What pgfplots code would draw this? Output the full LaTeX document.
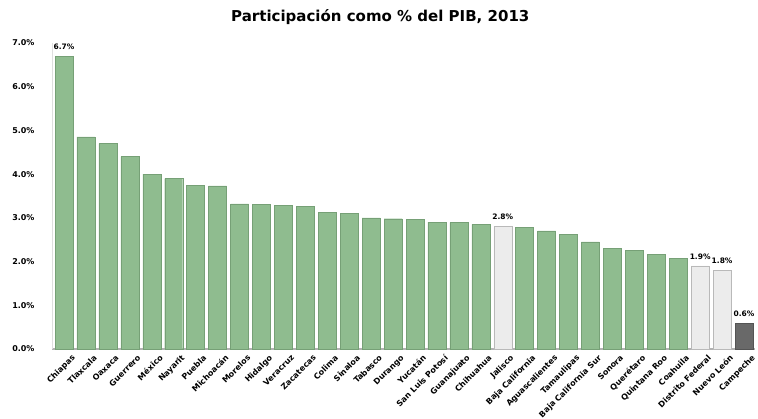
\documentclass[border=0pt]{standalone}
\usepackage{fontspec}
\setmainfont{DejaVu Sans}
\usepackage{pgfplots}
\pgfplotsset{compat=1.18}
\definecolor{barg}{RGB}{143,188,143}
\definecolor{bargedge}{RGB}{118,160,118}
\definecolor{barl}{RGB}{236,236,236}
\definecolor{barledge}{RGB}{185,185,185}
\definecolor{bard}{RGB}{105,105,105}
\begin{document}
\begin{tikzpicture}
\begin{axis}[
  scale only axis, width=703pt, height=306pt,
  xmin=-0.55, xmax=31.5, ymin=0, ymax=7,
  ybar, bar width=18pt, bar shift=0pt,
  axis x line*=bottom, axis y line*=left,
  x axis line style={draw=gray!60, line width=1.2pt},
  y axis line style={draw=gray!25},
  major tick length=0pt,
  xtick={0,...,31},
  xticklabels={Chiapas,Tlaxcala,Oaxaca,Guerrero,México,Nayarit,Puebla,Michoacán,Morelos,Hidalgo,Veracruz,Zacatecas,Colima,Sinaloa,Tabasco,Durango,Yucatán,San Luis Potosí,Guanajuato,Chihuahua,Jalisco,Baja California,Aguascalientes,Tamaulipas,Baja California Sur,Sonora,Querétaro,Quintana Roo,Coahuila,Distrito Federal,Nuevo León,Campeche},
  x tick label style={font=\bfseries\fontsize{8}{9}\selectfont, rotate=45, anchor=north east, inner sep=0.5pt, yshift=-8pt, xshift=2pt},
  ytick={0,...,7},
  yticklabels={0.0\%,1.0\%,2.0\%,3.0\%,4.0\%,5.0\%,6.0\%,7.0\%},
  y tick label style={font=\bfseries\fontsize{8}{9}\selectfont, xshift=-14pt},
  title={Participación como \% del PIB, 2013},
  title style={font=\bfseries\fontsize{15}{17}\selectfont, at={(0.467,1)}, anchor=center, yshift=20pt},
  nodes near coords style={font=\bfseries\fontsize{7.5}{8}\selectfont, anchor=south, yshift=3pt},
  clip=false,
]
\addplot[fill=barg, draw=bargedge] coordinates {
  (1,4.85) (2,4.70) (3,4.40) (4,4.00) (5,3.90) (6,3.75) (7,3.73)
  (8,3.32) (9,3.31) (10,3.28) (11,3.26) (12,3.13) (13,3.10) (14,3.00)
  (15,2.98) (16,2.97) (17,2.90) (18,2.89) (19,2.85)
  (21,2.78) (22,2.70) (23,2.62) (24,2.45) (25,2.30) (26,2.25) (27,2.16) (28,2.07)
};
\addplot[fill=barg, draw=bargedge, nodes near coords, point meta=explicit symbolic] coordinates {
  (0,6.7) [6.7\%]
};
\addplot[fill=barl, draw=barledge, nodes near coords, point meta=explicit symbolic] coordinates {
  (20,2.8) [2.8\%] (29,1.9) [1.9\%] (30,1.8) [1.8\%]
};
\addplot[fill=bard, draw=bard!80!black, nodes near coords, point meta=explicit symbolic] coordinates {
  (31,0.6) [0.6\%]
};
\end{axis}
\pgfresetboundingbox
\path[use as bounding box] (current axis.south west) ++(-52pt,-69pt) rectangle ++(758pt,418pt);
\end{tikzpicture}
\end{document}
